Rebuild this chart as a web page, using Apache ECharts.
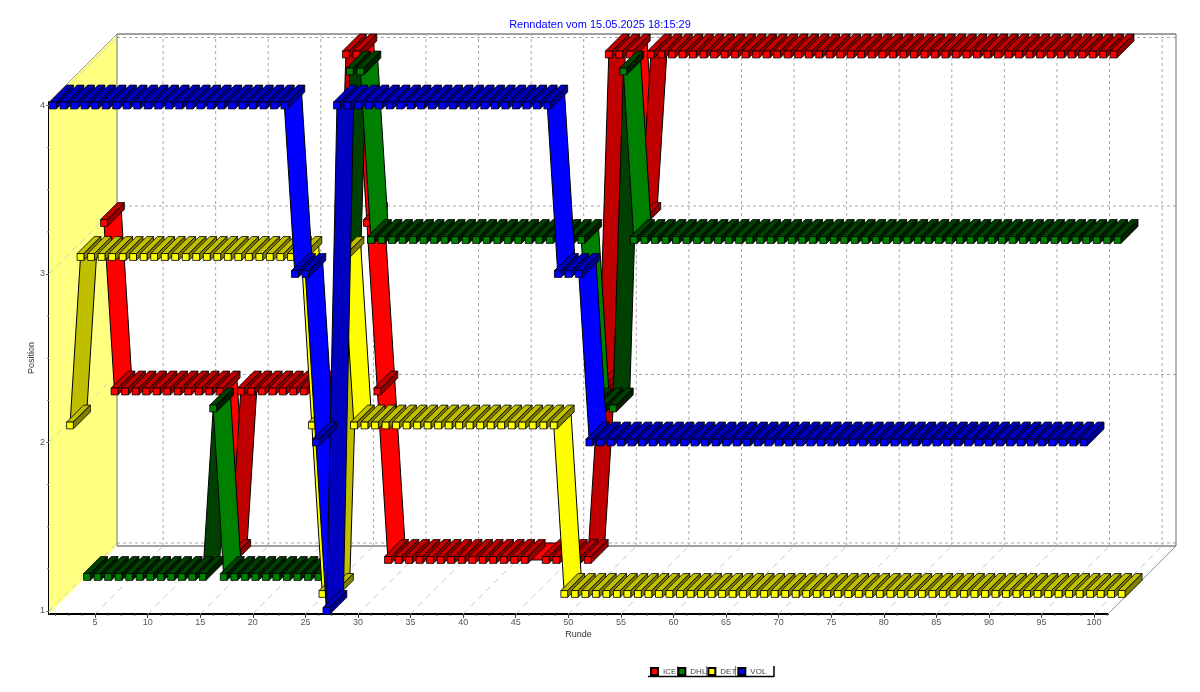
<!DOCTYPE html>
<html><head><meta charset="utf-8">
<style>html,body{margin:0;padding:0;background:#fff}#c{width:1200px;height:692px;filter:blur(0.35px)}</style>
<script src="https://cdn.jsdelivr.net/npm/echarts@6/dist/echarts.min.js"></script>
</head><body><div id="c"></div>
<script>
const title = 'Renndaten vom 15.05.2025 18:15:29';
const seriesNames = ['ICE','DHL','DET','VOL'];
const xTicks = [5,10,15,20,25,30,35,40,45,50,55,60,65,70,75,80,85,90,95,100];
const yTicks = [1,2,3,4];
// position per lap (index 0 = lap 1), null = no reading
const ICE = [3,2,2,2,2,2,2,2,2,2,2,2,1,2,2,2,2,2,2,2,2,2,2,4,4,3,2,1,1,1,1,1,1,1,1,1,1,1,1,1,1,null,1,1,1,1,1,2,4,4,4,3,4,4,4,4,4,4,4,4,4,4,4,4,4,4,4,4,4,4,4,4,4,4,4,4,4,4,4,4,4,4,4,4,4,4,4,4,4,4,4,4,4,4,4,4,4];
const DHL = [1,1,1,1,1,1,1,1,1,1,1,1,2,1,1,1,1,1,1,1,1,1,1,1,2,4,4,3,3,3,3,3,3,3,3,3,3,3,3,3,3,3,3,3,3,3,3,3,2,2,2,4,3,3,3,3,3,3,3,3,3,3,3,3,3,3,3,3,3,3,3,3,3,3,3,3,3,3,3,3,3,3,3,3,3,3,3,3,3,3,3,3,3,3,3,3,3,3,3];
const DET = [2,3,3,3,3,3,3,3,3,3,3,3,3,3,3,3,3,3,3,3,3,3,3,2,1,1,3,2,2,2,2,2,2,2,2,2,2,2,2,2,2,2,2,2,2,2,2,1,1,1,1,1,1,1,1,1,1,1,1,1,1,1,1,1,1,1,1,1,1,1,1,1,1,1,1,1,1,1,1,1,1,1,1,1,1,1,1,1,1,1,1,1,1,1,1,1,1,1,1,1,1];
const VOL = [4,4,4,4,4,4,4,4,4,4,4,4,4,4,4,4,4,4,4,4,4,4,4,3,3,2,1,4,4,4,4,4,4,4,4,4,4,4,4,4,4,4,4,4,4,4,4,4,3,3,3,2,2,2,2,2,2,2,2,2,2,2,2,2,2,2,2,2,2,2,2,2,2,2,2,2,2,2,2,2,2,2,2,2,2,2,2,2,2,2,2,2,2,2,2,2,2,2,2];
const seriesValues = [ICE,DHL,DET,VOL];
const palette = [
  {front:'#FF0000',rise:'#C00000',flat:'#900000',side:'#900000',top:'#C00000'},
  {front:'#008000',rise:'#004000',flat:'#002000',side:'#002000',top:'#004000'},
  {front:'#FFFF00',rise:'#BFBF00',flat:'#808000',side:'#808000',top:'#BFBF00'},
  {front:'#0000FF',rise:'#0000C0',flat:'#000090',side:'#000090',top:'#0000C0'}
];
const seriesDepth = [51,34,17,0];
const ribbon = 17, wall = 68, half = 3.4;
const edge = '#000', edgeW = 0.8;
const xMin = 0.62, xMax = 101.32, yMin = 0.982, yMax = 4.0208;

function line(a,b,color,w,dash){
  return {type:'line',shape:{x1:a[0],y1:a[1],x2:b[0],y2:b[1]},
    style:{stroke:color,lineWidth:w,lineDash:dash||null,fill:null},silent:true};
}
function renderWalls(params,api){
  const c = (x,y)=>api.coord([x,y]);
  const s = (p)=>[p[0]+wall,p[1]-wall];
  const bl=c(xMin,yMin),tl=c(xMin,yMax),br=c(xMax,yMin);
  const tr=c(xMax,yMax);
  const kids=[];
  kids.push({type:'polygon',shape:{points:[tl,s(tl),s(bl),bl]},style:{fill:'#FFFF80'},silent:true});
  xTicks.forEach(v=>{
    const p=c(v,yMin);
    kids.push(line(s(p),s(c(v,yMax)),'#A8A8A8',1,[3,3]));
    kids.push(line(p,s(p),'#C8C8C8',1,[6,5]));
  });
  yTicks.forEach(v=>{
    const p=c(xMin,v);
    kids.push(line(s(p),s(c(xMax,v)),'#A8A8A8',1,[3,3]));
    kids.push(line(p,s(p),'#D0D0C0',1,[6,5]));
  });
  kids.push(line(tl,s(tl),'#A0A0A0',1));
  kids.push(line(s(tl),s(tr),'#A0A0A0',2));
  kids.push(line(s(bl),s(br),'#A0A0A0',2));
  kids.push(line(s(tl),s(bl),'#707070',1));
  kids.push(line(s(tr),s(br),'#707070',1));
  kids.push(line(br,s(br),'#909090',1));
  // minor ticks
  for(let v=1.25;v<xMax;v+=1.25){
    if(v%5===0)continue;
    const p=c(v,yMin);
    kids.push(line(p,[p[0],p[1]+2],'#606060',1));
  }
  for(let v=1.25;v<4;v+=0.25){
    if(v%1===0)continue;
    const p=c(xMin,v);
    kids.push(line(p,[p[0]-2,p[1]],'#808080',1));
  }
  return {type:'group',children:kids};
}
function renderRace(idx){
  const col=palette[idx], d=seriesDepth[idx];
  return function(params,api){
    const i=params.dataIndexInside, n=params.dataInsideLength;
    const lap=api.value(0), val=api.value(1);
    const p=api.coord([lap,val]);
    const x=p[0]+d, y=p[1]-d;
    const kids=[];
    if(i<n-1){
      const lap2=api.value(0,i+1), val2=api.value(1,i+1);
      const q=api.coord([lap2,val2]);
      const x2=q[0]+d, y2=q[1]-d;
      let fill = val2<val ? col.front : (val2>val ? col.rise : (lap2-lap>1 ? col.front : col.flat));
      kids.push({type:'polygon',z2:1,shape:{points:[[x,y],[x2,y2],[x2+ribbon,y2-ribbon],[x+ribbon,y-ribbon]]},
        style:{fill:fill,stroke:edge,lineWidth:1,lineJoin:'round'},silent:true});
    }
    kids.push({type:'polygon',z2:10,shape:{points:[[x-half,y-half],[x+half,y-half],[x+half+ribbon,y-half-ribbon],[x-half+ribbon,y-half-ribbon]]},
      style:{fill:col.top,stroke:edge,lineWidth:edgeW},silent:true});
    kids.push({type:'polygon',z2:10,shape:{points:[[x+half,y-half],[x+half+ribbon,y-half-ribbon],[x+half+ribbon,y+half-ribbon],[x+half,y+half]]},
      style:{fill:col.side,stroke:edge,lineWidth:edgeW},silent:true});
    kids.push({type:'rect',z2:11,shape:{x:x-half,y:y-half,width:2*half,height:2*half},
      style:{fill:col.front,stroke:edge,lineWidth:edgeW},silent:true});
    return {type:'group',children:kids};
  };
}
const series=[{type:'custom',name:'walls',z:1,silent:true,renderItem:renderWalls,data:[[xMin,yMin]],encode:{x:0,y:1}}];
seriesNames.forEach((nm,k)=>{
  const data=[];
  seriesValues[k].forEach((v,j)=>{ if(v!==null) data.push([j+1,v]); });
  series.push({type:'custom',name:nm,z:3+k,silent:true,renderItem:renderRace(k),data:data,encode:{x:0,y:1},
    itemStyle:{color:palette[k].front,borderColor:'#000',borderWidth:1}});
});
const font='"Liberation Sans",Arial,sans-serif';
const chart=echarts.init(document.getElementById('c'),null,{renderer:'canvas',width:1200,height:692});
chart.setOption({
  animation:false,backgroundColor:'#fff',
  title:{text:title,left:'center',top:19,padding:0,itemGap:0,
    textStyle:{color:'#0000FF',fontSize:11,fontWeight:'normal',fontFamily:font}},
  grid:{left:49,right:92,top:102,bottom:78,containLabel:false},
  xAxis:{type:'value',min:xMin,max:xMax,name:'Runde',nameLocation:'middle',nameGap:16,nameMoveOverlap:false,
    nameTextStyle:{fontSize:9,color:'#333',fontFamily:font},
    axisLine:{show:true,lineStyle:{color:'#000',width:2}},
    axisTick:{show:true,length:4,customValues:xTicks,lineStyle:{color:'#404040'}},
    axisLabel:{customValues:xTicks,fontSize:9,color:'#555',margin:4,fontFamily:font},
    splitLine:{show:false}},
  yAxis:{type:'value',min:yMin,max:yMax,name:'Position',nameLocation:'middle',nameGap:13,nameMoveOverlap:false,
    nameTextStyle:{fontSize:9,color:'#333',fontFamily:font},
    axisLine:{show:true,lineStyle:{color:'#000',width:2}},
    axisTick:{show:true,length:3,customValues:yTicks,lineStyle:{color:'#707070'}},
    axisLabel:{customValues:yTicks,fontSize:9,color:'#555',margin:4,fontFamily:font},
    splitLine:{show:false}},
  legend:{data:seriesNames,left:650,top:667,padding:0,itemGap:1,itemWidth:7,itemHeight:7,icon:'rect',
    textStyle:{fontSize:8,color:'#444',width:17.3,fontFamily:font}},
  graphic:[
    {type:'line',shape:{x1:648,y1:676.5,x2:774,y2:676.5},style:{stroke:'#000',lineWidth:1.5},silent:true},
    {type:'line',shape:{x1:774,y1:666,x2:774,y2:677},style:{stroke:'#000',lineWidth:1.5},silent:true},
    {type:'line',shape:{x1:677.5,y1:666,x2:677.5,y2:676},style:{stroke:'#808080',lineWidth:1},silent:true},
    {type:'line',shape:{x1:706.5,y1:666,x2:706.5,y2:676},style:{stroke:'#808080',lineWidth:1},silent:true},
    {type:'line',shape:{x1:735.5,y1:666,x2:735.5,y2:676},style:{stroke:'#808080',lineWidth:1},silent:true}
  ],
  series:series
});
</script></body></html>
